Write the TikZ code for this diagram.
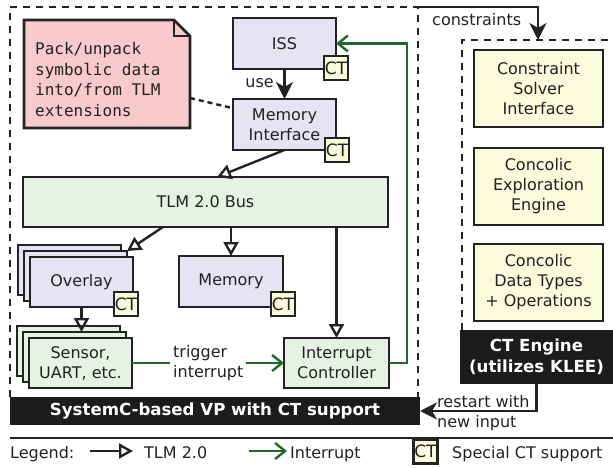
\documentclass[tikz,border=0pt]{standalone}
\usepackage{fontspec}
\setmainfont{DejaVu Sans}
\newfontfamily\notefont{DejaVu Sans Mono}
\usetikzlibrary{arrows.meta}
\definecolor{lav}{HTML}{E4E4F2}
\definecolor{mint}{HTML}{E6F2E3}
\definecolor{cream}{HTML}{FAFADC}
\definecolor{pinknote}{HTML}{F8CACB}
\definecolor{edge}{HTML}{222222}
\definecolor{irq}{HTML}{1F6A2E}
\definecolor{barcol}{HTML}{1C1C1C}
\tikzset{
  txt/.style={font=\fontsize{16}{20}\selectfont, text=edge, inner sep=0pt},
  comp/.style={txt, draw=edge, line width=2.6pt, inner sep=0pt, outer sep=0pt, align=center},
  lavbox/.style={comp, fill=lav},
  mintbox/.style={comp, fill=mint},
  creambox/.style={comp, fill=cream},
  ctbadge/.style={comp, fill=cream, minimum width=24pt, minimum height=24pt, font=\fontsize{17}{20}\selectfont},
  blackbar/.style={fill=barcol, text=white, font=\fontsize{16.6}{20.5}\selectfont\bfseries, align=center, inner sep=0pt, outer sep=0pt},
  tlm/.style={draw=edge, line width=2.4pt, -{Triangle[open,length=14pt,width=15pt]}},
  irqarrow/.style={draw=irq, line width=2.4pt, -{Straight Barb[length=10pt,width=16pt]}},
  solidarr/.style={draw=edge, line width=2.4pt, -{Stealth[length=17pt,width=17pt,inset=5pt]}},
  dashline/.style={draw=edge, line width=2.6pt, dash pattern=on 7pt off 6pt},
}
\begin{document}
\begin{tikzpicture}[x=1pt,y=-1pt]
\useasboundingbox (0,0) rectangle (613,468);

% bars
\node[blackbar, minimum width=410pt, minimum height=28pt] (sysbar) at (215,411) {SystemC-based VP with CT support};
\node[blackbar, minimum width=153pt, minimum height=54pt] (cteng) at (536.5,357) {CT Engine\\(utilizes KLEE)};

% dashed enclosures
\coordinate (vpTL) at (10,7);
\coordinate (vpTR) at (418,7);
\coordinate (ceTL) at (462,40);
\coordinate (ceTR) at (613,40);
\coordinate (ceIn) at (538,40);
\draw[dashline] (sysbar.north west) -- (vpTL) -- (vpTR) -- (vpTR |- sysbar.north);
\draw[dashline] (ceTL |- cteng.north) -- (ceTL) -- (ceTR);

% note
\draw[draw=edge, line width=2.6pt, fill=pinknote, line join=miter] (24,20) -- (174,20) -- (190,36) -- (190,128) -- (24,128) -- cycle;
\draw[draw=edge, line width=1.8pt] (174,20) -- (174,36) -- (190,36);
\node[txt, anchor=north west, align=left, font=\notefont\fontsize{16}{20.7}\selectfont] (note) at (35,42)
  {Pack/unpack\\symbolic data\\into/from TLM\\extensions};
\coordinate (noteR) at (190,98);
\coordinate (memL) at (232,108);

% components
\node[lavbox, minimum width=103pt, minimum height=51pt] (iss) at (284.5,43.5) {ISS};
\node[lavbox, minimum width=103pt, minimum height=51pt] (memif) at (284.5,124.5) {Memory\\Interface};
\node[mintbox, minimum width=365pt, minimum height=50pt] (bus) at (205.5,202) {TLM 2.0 Bus};

\node[lavbox, minimum width=103pt, minimum height=50pt] (ovl3) at (69.5,270) {};
\node[lavbox, minimum width=103pt, minimum height=50pt] (ovl2) at (75.5,276) {};
\node[lavbox, minimum width=103pt, minimum height=50pt] (ovl) at (81.5,282) {Overlay};

\node[lavbox, minimum width=104pt, minimum height=51pt] (mem) at (231,281.5) {Memory};

\node[mintbox, minimum width=103pt, minimum height=50pt] (sen3) at (68.5,351) {};
\node[mintbox, minimum width=103pt, minimum height=50pt] (sen2) at (74.5,357) {};
\node[mintbox, minimum width=103pt, minimum height=50pt] (sen) at (80.5,363) {Sensor,\\UART, etc.};

\node[mintbox, minimum width=105pt, minimum height=50pt] (ic) at (336.5,363) {Interrupt\\Controller};

\node[creambox, minimum width=129pt, minimum height=77pt] (cs) at (538.5,88.5) {Constraint\\Solver\\Interface};
\node[creambox, minimum width=129pt, minimum height=77pt] (cee) at (538.5,186.5) {Concolic\\Exploration\\Engine};
\node[creambox, minimum width=129pt, minimum height=77pt] (cdt) at (538.5,282.5) {Concolic\\Data Types\\+ Operations};

% CT badges
\node[ctbadge] (ctiss) at (336,68) {CT};
\node[ctbadge] (ctmemif) at (337,150) {CT};
\node[ctbadge] (ctovl) at (126,304) {CT};
\node[ctbadge] (ctmem) at (283,304) {CT};

% connectors
\draw[draw=edge, line width=2.4pt, dash pattern=on 5pt off 4pt] (noteR) -- (memL);
\draw[solidarr] (iss.south) -- (memif.north);
\node[txt, anchor=east] (uselbl) at (274,83) {use};
\path (bus.north) ++(11.5,0) coordinate (busIn);
\draw[tlm] (memif.south) -- (busIn);
\path (bus.south) ++(-42.5,0) coordinate (busOut);
\draw[tlm] (busOut) -- (ovl2.north east);
\draw[tlm] (mem.north |- bus.south) -- (mem.north);
\draw[tlm] (ic.north |- bus.south) -- (ic.north);
\draw[tlm] (ovl.south) -- (ovl.south |- sen2.north);

\draw[irqarrow] (sen.east) -- (ic.west);
\node[txt, anchor=base west, align=left, fill=white, inner xsep=3pt] (trig) at (170,377) {trigger\\interrupt};
\draw[irqarrow] (ic.east) -- ++(18,0) |- (iss.east);

\draw[solidarr] (vpTR) -| (ceIn);
\node[txt, anchor=base west] (conlbl) at (432,26) {constraints};
\draw[solidarr] (cteng.south) |- (sysbar.east);
\node[txt, anchor=base west, align=left] (restart) at (437,427) {restart with\\new input};

% legend
\coordinate (legL) at (10,438);
\coordinate (legR) at (613,438);
\draw[draw=edge, line width=2.4pt] (legL) -- (legR);
\node[txt, anchor=base west] (legend) at (10,458) {Legend:};
\coordinate (lt1) at (90,451);
\coordinate (lt2) at (133,451);
\draw[tlm] (lt1) -- (lt2);
\node[txt, anchor=base west] (legtlm) at (144,458) {TLM 2.0};
\coordinate (li1) at (249,451);
\coordinate (li2) at (287,451);
\draw[irqarrow] (li1) -- (li2);
\node[txt, anchor=base west] (legirq) at (290,458) {Interrupt};
\node[ctbadge] (legct) at (425.5,451.5) {CT};
\node[txt, anchor=base west] (legsp) at (452,458) {Special CT support};
\end{tikzpicture}
\end{document}
